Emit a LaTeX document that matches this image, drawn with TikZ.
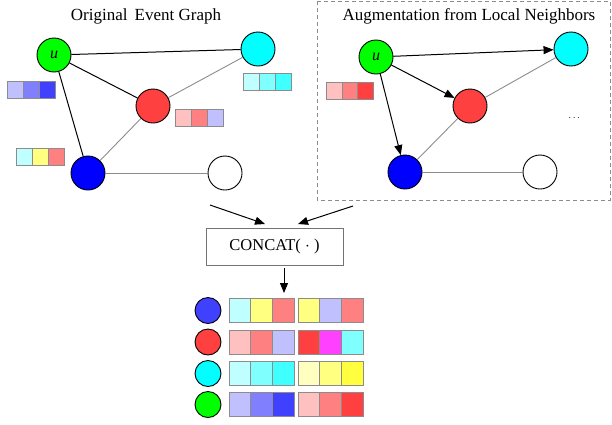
\documentclass[tikz,border=0pt]{standalone}
\usepackage{fontspec}
\setmainfont{Liberation Serif}
\usepackage{amsmath}
\usetikzlibrary{arrows.meta}
\definecolor{cGreen}{HTML}{00FF00}
\definecolor{cCyan}{HTML}{00FFFF}
\definecolor{cRed}{HTML}{FF4040}
\definecolor{cBlue}{HTML}{0000FF}
\definecolor{bA}{HTML}{C0C0FF}
\definecolor{bB}{HTML}{8080FF}
\definecolor{bC}{HTML}{4040FF}
\definecolor{cA}{HTML}{C0FFFF}
\definecolor{cB}{HTML}{80FFFF}
\definecolor{cC}{HTML}{40FFFF}
\definecolor{rA}{HTML}{FFC0C0}
\definecolor{rB}{HTML}{FF8080}
\definecolor{rC}{HTML}{FF4040}
\definecolor{yA}{HTML}{FFFFC0}
\definecolor{yB}{HTML}{FFFF80}
\definecolor{yC}{HTML}{FFFF40}
\definecolor{mC}{HTML}{FF40FF}
\tikzstyle{vert} = [circle, draw = black, line width = 0.9pt, inner sep = 0pt, minimum size = 34pt, font = \fontsize{16}{18}\selectfont\itshape]
\tikzstyle{dot} = [circle, draw = black, line width = 0.9pt, inner sep = 0pt, minimum size = 26pt]
\tikzstyle{cell} = [draw = black!45, line width = 1pt, inner sep = 0pt, minimum width = 16pt, minimum height = 17pt]
\tikzstyle{wide} = [draw = black!45, line width = 1pt, inner sep = 0pt, minimum width = 21.7pt, minimum height = 24pt]
\tikzstyle{title} = [font = \fontsize{17}{20}\selectfont]
\tikzstyle{strong} = [black, line width = 1pt]
\tikzstyle{weak} = [black!45, line width = 0.9pt]

\begin{document}
\begin{tikzpicture}[x = 1pt, y = -1pt, >={Triangle[length = 10pt, width = 8pt]}]
            \useasboundingbox (0, 0) rectangle (612, 424);
            % original event graph
            \node (T1) at (146, 16) [title] {Original\, Event Graph};
            \node (U) at (54, 55) [vert, fill = cGreen] {u};
            \node (C) at (258, 49) [vert, fill = cCyan] {};
            \node (R) at (153, 106) [vert, fill = cRed] {};
            \node (B) at (88, 173) [vert, fill = cBlue] {};
            \node (W) at (225, 173) [vert, fill = white] {};
            \draw [strong] (U) -- (C);
            \draw [strong] (U) -- (R);
            \draw [strong] (U) -- (B);
            \draw [weak] (R) -- (C);
            \draw [weak] (R) -- (B);
            \draw [weak] (B) -- (W);
            \foreach \c [count = \i] in {bA, bB, bC}
                \node (u\i) at (-1 + 16*\i, 90) [cell, fill = \c] {};
            \foreach \c [count = \i] in {cA, cB, cC}
                \node (c\i) at (235 + 16*\i, 82) [cell, fill = \c] {};
            \foreach \c [count = \i] in {rA, rB, bA}
                \node (r\i) at (167 + 16*\i, 117.5) [cell, fill = \c] {};
            \foreach \c [count = \i] in {cA, yB, rB}
                \node (b\i) at (8 + 16*\i, 156.5) [cell, fill = \c] {};

            % augmentation from local neighbors
            \draw [black!45, line width = 1pt, dash pattern = on 4pt off 3pt] (317, 1) rectangle (610, 200);
            \node (T2) at (469, 16) [title] {Augmentation from Local Neighbors};
            \node (U2) at (376, 57) [vert, fill = cGreen] {u};
            \node (C2) at (571, 49) [vert, fill = cCyan] {};
            \node (R2) at (470, 106) [vert, fill = cRed] {};
            \node (B2) at (405, 172) [vert, fill = cBlue] {};
            \node (W2) at (540, 172) [vert, fill = white] {};
            \draw [->, strong] (U2) -- (C2);
            \draw [->, strong] (U2) -- (R2);
            \draw [->, strong] (U2) -- (B2);
            \draw [weak] (R2) -- (C2);
            \draw [weak] (R2) -- (B2);
            \draw [weak] (B2) -- (W2);
            \foreach \c [count = \i] in {rA, rB, rC}
                \node (n\i) at (318.5 + 15.7*\i, 90.5) [cell, minimum width = 15.7pt, fill = \c] {};
            \node (D) at (575, 118) {$\cdots$};

            % concatenation
            \node (K) at (274.5, 246.5) [draw = black!55, line width = 1pt, minimum width = 137pt, minimum height = 37pt, font = \fontsize{16.5}{18}\selectfont] {CONCAT( $\cdot$ )};
            \coordinate (P) at (210, 205);
            \coordinate (P') at (265, 224);
            \coordinate (Q) at (353, 206);
            \coordinate (Q') at (298, 224);
            \coordinate (S) at (284, 268);
            \coordinate (S') at (284, 293);
            \draw [->, strong] (P) -- (P');
            \draw [->, strong] (Q) -- (Q');
            \draw [->, strong] (S) -- (S');

            % concatenated embeddings
            \node (E1) at (208, 310.5) [dot, fill = bC] {};
            \node (E2) at (208, 342) [dot, fill = cRed] {};
            \node (E3) at (208, 373.5) [dot, fill = cCyan] {};
            \node (E4) at (208, 404.5) [dot, fill = cGreen] {};
            \foreach \c [count = \i] in {cA, yB, rB}
                \node (f\i) at (218.15 + 21.7*\i, 310.5) [wide, fill = \c] {};
            \foreach \c [count = \i] in {yB, bA, rB}
                \node (g\i) at (287.15 + 21.7*\i, 310.5) [wide, fill = \c] {};
            \foreach \c [count = \i] in {rA, rB, bA}
                \node (h\i) at (218.15 + 21.7*\i, 342) [wide, fill = \c] {};
            \foreach \c [count = \i] in {rC, mC, cB}
                \node (k\i) at (287.15 + 21.7*\i, 342) [wide, fill = \c] {};
            \foreach \c [count = \i] in {cA, cB, cC}
                \node (l\i) at (218.15 + 21.7*\i, 373.5) [wide, fill = \c] {};
            \foreach \c [count = \i] in {yA, yB, yC}
                \node (m\i) at (287.15 + 21.7*\i, 373.5) [wide, fill = \c] {};
            \foreach \c [count = \i] in {bA, bB, bC}
                \node (o\i) at (218.15 + 21.7*\i, 404.5) [wide, fill = \c] {};
            \foreach \c [count = \i] in {rA, rB, rC}
                \node (q\i) at (287.15 + 21.7*\i, 404.5) [wide, fill = \c] {};
        \end{tikzpicture}
\end{document}
